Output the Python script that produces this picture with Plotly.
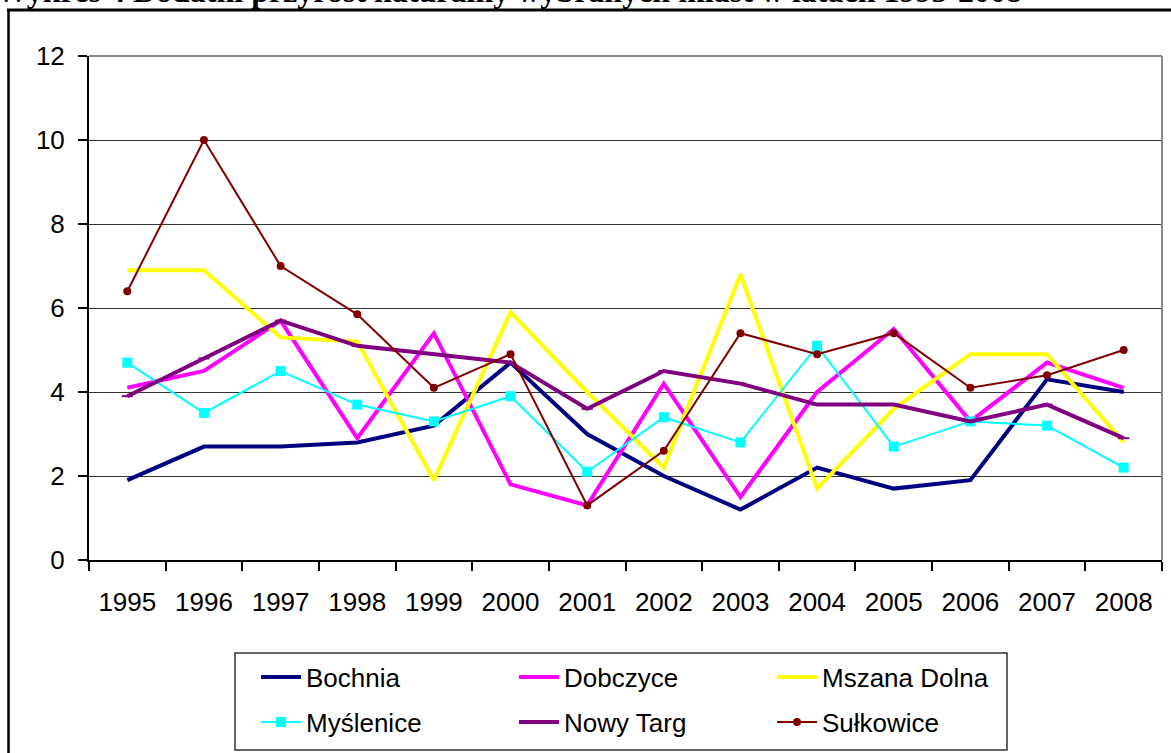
import plotly.graph_objects as go

years = ["1995", "1996", "1997", "1998", "1999", "2000", "2001",
         "2002", "2003", "2004", "2005", "2006", "2007", "2008"]

bochnia = [1.9, 2.7, 2.7, 2.8, 3.2, 4.7, 3.0, 2.0, 1.2, 2.2, 1.7, 1.9, 4.3, 4.0]
dobczyce = [4.1, 4.5, 5.7, 2.9, 5.4, 1.8, 1.3, 4.2, 1.5, 4.0, 5.5, 3.3, 4.7, 4.1]
mszana_dolna = [6.9, 6.9, 5.3, 5.2, 1.9, 5.9, 4.0, 2.2, 6.8, 1.7, 3.6, 4.9, 4.9, 2.8]
myslenice = [4.7, 3.5, 4.5, 3.7, 3.3, 3.9, 2.1, 3.4, 2.8, 5.1, 2.7, 3.3, 3.2, 2.2]
nowy_targ = [3.9, 4.8, 5.7, 5.1, 4.9, 4.7, 3.6, 4.5, 4.2, 3.7, 3.7, 3.3, 3.7, 2.9]
sulkowice = [6.4, 10.0, 7.0, 5.85, 4.1, 4.9, 1.3, 2.6, 5.4, 4.9, 5.4, 4.1, 4.4, 5.0]

y_ticks = [0, 2, 4, 6, 8, 10, 12]

W, H = 1171, 753
ML, MR, MT, MB = 89, 9, 56, 193
PW, PH = W - ML - MR, H - MT - MB


def px(x):
    return (x - ML) / PW


def py(y):
    return (H - MB - y) / PH


FONT = "Arial, Liberation Sans, sans-serif"

fig = go.Figure()

fig.add_trace(go.Scatter(x=years, y=bochnia, name="Bochnia", mode="lines",
                         line=dict(color="#000080", width=4), legend="legend"))
fig.add_trace(go.Scatter(x=years, y=dobczyce, name="Dobczyce", mode="lines",
                         line=dict(color="#FF00FF", width=4), legend="legend"))
fig.add_trace(go.Scatter(x=years, y=mszana_dolna, name="Mszana Dolna", mode="lines",
                         line=dict(color="#FFFF00", width=4), legend="legend"))
fig.add_trace(go.Scatter(x=years, y=myslenice, name="Myślenice", mode="lines+markers",
                         line=dict(color="#00FFFF", width=2),
                         marker=dict(symbol="square", size=10, color="#00FFFF"),
                         legend="legend2"))
fig.add_trace(go.Scatter(x=years, y=nowy_targ, name="Nowy Targ", mode="lines+markers",
                         line=dict(color="#800080", width=4),
                         marker=dict(symbol="line-ew-open", size=8,
                                     line=dict(color="#800080", width=2)),
                         legend="legend2"))
fig.add_trace(go.Scatter(x=years, y=sulkowice, name="Sułkowice", mode="lines+markers",
                         line=dict(color="#800000", width=2),
                         marker=dict(symbol="circle", size=8, color="#800000"),
                         legend="legend2"))

legend_common = dict(
    orientation="h", xanchor="left", yanchor="middle",
    bgcolor="rgba(0,0,0,0)", borderwidth=0,
    font=dict(family=FONT, size=26, color="black"),
    entrywidth=203, entrywidthmode="pixels", itemwidth=40,
    traceorder="normal",
)

shapes = [
    # legend box
    dict(type="rect", xref="paper", yref="paper",
         x0=px(235), x1=px(1007), y0=py(750), y1=py(653),
         line=dict(color="#333333", width=1.5), fillcolor="white", layer="below"),
    # outer chart border: top and left
    dict(type="line", xref="paper", yref="paper",
         x0=px(7), x1=px(1175), y0=py(10), y1=py(10),
         line=dict(color="black", width=3)),
    dict(type="line", xref="paper", yref="paper",
         x0=px(8.5), x1=px(8.5), y0=py(10), y1=py(760),
         line=dict(color="black", width=2.5)),
    # plot area border: top and right (gray)
    dict(type="line", xref="paper", yref="paper",
         x0=0, x1=1, y0=1, y1=1, line=dict(color="#888888", width=2)),
    dict(type="line", xref="paper", yref="paper",
         x0=1, x1=1, y0=0, y1=1, line=dict(color="#888888", width=2)),
]

fig.update_layout(
    width=W, height=H,
    margin=dict(l=ML, r=MR, t=MT, b=MB, pad=0, autoexpand=False),
    paper_bgcolor="white", plot_bgcolor="white",
    font=dict(family=FONT, size=26, color="black"),
    showlegend=True,
    legend=dict(x=px(256), y=py(677), **legend_common),
    legend2=dict(x=px(256), y=py(722), **legend_common),
    shapes=shapes,
    annotations=[
        dict(text="<b>Wykres 4 Dodatni przyrost naturalny wybranych miast w latach 1995-2008</b>",
             xref="paper", yref="paper", x=px(-6), y=py(11), xanchor="left", yanchor="bottom",
             showarrow=False,
             font=dict(family="Liberation Serif, Times New Roman, serif", size=32, color="black")),
    ],
)

fig.update_xaxes(
    type="category", automargin=False, tickangle=0,
    range=[-0.5, len(years) - 0.5],
    showline=True, linecolor="black", linewidth=2,
    ticks="outside", ticklen=9, tickcolor="black", tickwidth=2,
    tickson="boundaries",
    showgrid=False, zeroline=False,
    tickfont=dict(family=FONT, size=26, color="black"),
    ticklabelstandoff=18,
)

fig.update_yaxes(
    range=[0, 12], tickvals=y_ticks, automargin=False,
    showline=True, linecolor="black", linewidth=2,
    ticks="outside", ticklen=9, tickcolor="black", tickwidth=2,
    showgrid=True, gridcolor="#333333", gridwidth=1.2,
    zeroline=False,
    tickfont=dict(family=FONT, size=26, color="black"),
    ticklabelstandoff=8,
)

fig.write_html("out.html", config={"displayModeBar": False},
               post_script="document.body.style.margin='0';document.body.style.overflow='hidden';")
